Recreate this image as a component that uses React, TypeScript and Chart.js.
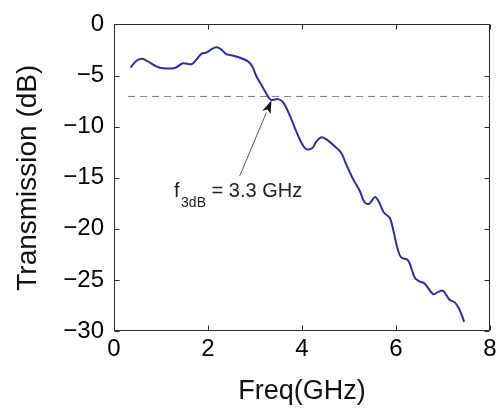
import React, { useEffect, useRef } from "react";
import { Chart, registerables } from "chart.js";

Chart.register(...registerables);

const freqGHz = [
  0.35, 0.48, 0.6, 0.72, 0.9, 1.04, 1.29, 1.47, 1.65, 1.75, 1.86, 1.97, 2.07, 2.18, 2.28, 2.39,
  2.5, 2.67, 2.85, 2.94, 3.03, 3.17, 3.29, 3.35, 3.49, 3.6, 3.74, 3.88, 3.99, 4.09, 4.22, 4.3,
  4.4, 4.52, 4.7, 4.84, 4.94, 5.09, 5.23, 5.33, 5.43, 5.55, 5.64, 5.74, 5.87, 5.95, 6.04, 6.11,
  6.26, 6.4, 6.51, 6.61, 6.79, 6.89, 7.0, 7.14, 7.25, 7.34, 7.45,
];
const transmissionDb = [
  -4.22, -3.56, -3.37, -3.62, -4.1, -4.3, -4.26, -3.81, -3.9, -3.46, -2.88, -2.75, -2.44, -2.24, -2.44, -2.92,
  -3.01, -3.24, -3.62, -4.1, -5.07, -6.19, -7.15, -7.4, -7.31, -7.63, -8.91, -10.5, -11.6, -12.2, -12.1, -11.5,
  -11.06, -11.25, -11.95, -12.6, -13.7, -15.16, -16.3, -17.4, -17.56, -16.9, -17.4, -18.4, -18.94, -20.3, -22.05, -22.8,
  -23.1, -24.8, -25.16, -25.35, -26.4, -26.2, -26.06, -26.95, -27.2, -27.8, -29.1,
];

const cutoffDb = -7.05;
const cutoffFreqSpan = [0.3, 8];
const xTickValues = [0, 2, 4, 6, 8];
const yTickValues = [0, -5, -10, -15, -20, -25, -30];
const xTitle = "Freq(GHz)";
const yTitle = "Transmission (dB)";
const labelMain = "f";
const labelSub = "3dB";
const labelRest = " = 3.3 GHz";
const arrowTail = { x: 2.674, y: -14.84 };
const arrowTip = { x: 3.35, y: -7.45 };
const labelAnchor = { x: 1.277, y: -16.86 };

const FONT = "'Liberation Sans', Arial, Helvetica, sans-serif";

const framePlugin = {
  id: "frameAndNote",
  afterDatasetsDraw(chart: any) {
    const { ctx, chartArea: a, scales } = chart;
    const xs = scales.x;
    const ys = scales.y;
    ctx.save();
    // frame
    const L = Math.round(a.left) + 0.5;
    const T = Math.round(a.top) + 0.5;
    const R = Math.round(a.right) - 0.5;
    const B = Math.round(a.bottom) - 0.5;
    ctx.strokeStyle = "#2a2a2a";
    ctx.lineWidth = 1;
    ctx.beginPath();
    ctx.rect(L, T, R - L, B - T);
    // inward ticks
    const tl = 5;
    xTickValues.forEach((v) => {
      const px = Math.round(xs.getPixelForValue(v)) + 0.5;
      ctx.moveTo(px, B);
      ctx.lineTo(px, B - tl);
      ctx.moveTo(px, T);
      ctx.lineTo(px, T + tl);
    });
    yTickValues.forEach((v) => {
      const py = Math.round(ys.getPixelForValue(v)) + 0.5;
      ctx.moveTo(L, py);
      ctx.lineTo(L + tl, py);
      ctx.moveTo(R, py);
      ctx.lineTo(R - tl, py);
    });
    ctx.stroke();

    // arrow
    const tx = xs.getPixelForValue(arrowTail.x);
    const ty = ys.getPixelForValue(arrowTail.y);
    const hx = xs.getPixelForValue(arrowTip.x);
    const hy = ys.getPixelForValue(arrowTip.y);
    const ang = Math.atan2(hy - ty, hx - tx);
    const headLen = 13;
    const headW = 4.5;
    const bx = hx - headLen * Math.cos(ang);
    const by = hy - headLen * Math.sin(ang);
    ctx.strokeStyle = "#444";
    ctx.lineWidth = 0.9;
    ctx.beginPath();
    ctx.moveTo(tx, ty);
    ctx.lineTo(bx, by);
    ctx.stroke();
    ctx.fillStyle = "#111";
    ctx.beginPath();
    ctx.moveTo(hx, hy);
    ctx.lineTo(bx + headW * Math.sin(ang), by - headW * Math.cos(ang));
    const nx = hx - headLen * 0.75 * Math.cos(ang);
    const ny = hy - headLen * 0.75 * Math.sin(ang);
    ctx.lineTo(nx, ny);
    ctx.lineTo(bx - headW * Math.sin(ang), by + headW * Math.cos(ang));
    ctx.closePath();
    ctx.fill();

    // label
    const lx = xs.getPixelForValue(labelAnchor.x);
    const ly = ys.getPixelForValue(labelAnchor.y);
    ctx.fillStyle = "#222";
    ctx.textBaseline = "alphabetic";
    ctx.textAlign = "left";
    ctx.font = `20px ${FONT}`;
    ctx.fillText(labelMain, lx, ly);
    const fW = ctx.measureText(labelMain).width;
    ctx.font = `14px ${FONT}`;
    const sx = lx + fW + 1.5;
    ctx.fillText(labelSub, sx, ly + 10);
    const sW = ctx.measureText(labelSub).width;
    ctx.font = `20px ${FONT}`;
    ctx.fillText(labelRest, sx + sW, ly);
    ctx.restore();
  },
};

export default function App() {
  const ref = useRef<HTMLCanvasElement | null>(null);

  useEffect(() => {
    if (!ref.current) return;
    const chart = new Chart(ref.current, {
      type: "line",
      data: {
        datasets: [
          {
            label: "Transmission",
            data: freqGHz.map((f, i) => ({ x: f, y: transmissionDb[i] })),
            borderColor: "#2e3192",
            borderWidth: 2,
            pointRadius: 0,
            tension: 0.35,
            fill: false,
            order: 1,
          },
          {
            label: "3 dB",
            data: cutoffFreqSpan.map((f) => ({ x: f, y: cutoffDb })),
            borderColor: "#7c7c7c",
            borderWidth: 1,
            borderDash: [7, 5],
            pointRadius: 0,
            fill: false,
            order: 2,
          },
        ],
      },
      options: {
        responsive: false,
        animation: false,
        layout: { padding: { left: 0, top: 19, right: 11, bottom: 0 } },
        plugins: {
          legend: { display: false },
          tooltip: { enabled: false },
        },
        scales: {
          x: {
            type: "linear",
            min: 0,
            max: 8,
            afterFit: (s: any) => {
              s.height = 79;
            },
            afterBuildTicks: (s: any) => {
              s.ticks = xTickValues.map((v) => ({ value: v }));
            },
            grid: { display: false, drawTicks: false },
            border: { display: false },
            ticks: {
              color: "#000",
              padding: 4,
              font: { family: FONT, size: 24 },
              callback: (v: any) => String(v),
            },
            title: {
              display: true,
              text: xTitle,
              color: "#111",
              font: { family: FONT, size: 27, lineHeight: 1 },
              padding: { top: 0, bottom: 5 },
            },
          },
          y: {
            type: "linear",
            min: -30,
            max: 0,
            afterFit: (s: any) => {
              s.width = 114;
            },
            afterBuildTicks: (s: any) => {
              s.ticks = yTickValues.map((v) => ({ value: v }));
            },
            grid: { display: false, drawTicks: false },
            border: { display: false },
            ticks: {
              color: "#000",
              padding: 10,
              font: { family: FONT, size: 24 },
              callback: (v: any) => (Number(v) < 0 ? "\u2212" + Math.abs(Number(v)) : String(v)),
            },
            title: {
              display: true,
              text: yTitle,
              color: "#111",
              font: { family: FONT, size: 28, lineHeight: 1 },
              padding: { top: 14, bottom: 0 },
            },
          },
        },
      },
      plugins: [framePlugin],
    });
    return () => chart.destroy();
  }, []);

  return (
    <div style={{ position: "absolute", left: 0, top: 0, width: 501, height: 410, background: "#fff" }}>
      <canvas ref={ref} width={501} height={410} />
    </div>
  );
}
